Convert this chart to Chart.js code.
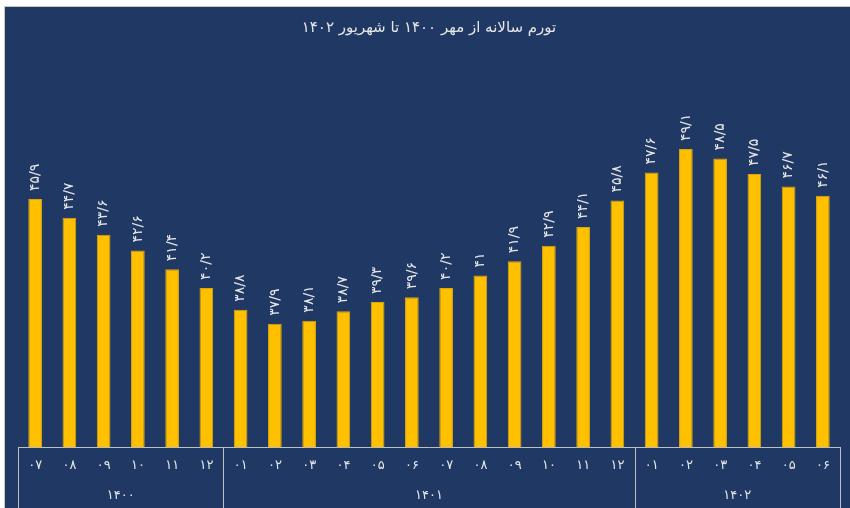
<!DOCTYPE html>
<html>
<head>
<meta charset="utf-8">
<script src="https://cdn.jsdelivr.net/npm/chart.js@4"></script>
<style>
  body { margin: 0; background: #ffffff; width: 850px; height: 508px; overflow: hidden; }
  #box {
    position: absolute; left: 4px; top: 6px;
    width: 845px; height: 501px;
    background: #1f3864;
    border-left: 1px solid #c8c8c8; border-top: 1px solid #c8c8c8;
  }
</style>
</head>
<body>
<div id="box"><canvas id="grafico" width="845" height="501"></canvas></div>
<script>
// ماه‌ها (برچسب‌های محور افقی)
const mahha = ["۰۷", "۰۸", "۰۹", "۱۰", "۱۱", "۱۲",
  "۰۱", "۰۲", "۰۳", "۰۴", "۰۵", "۰۶", "۰۷", "۰۸", "۰۹", "۱۰", "۱۱", "۱۲",
  "۰۱", "۰۲", "۰۳", "۰۴", "۰۵", "۰۶"];

// سال‌ها و تعداد ماه‌های هر سال
const salha = ["۱۴۰۰", "۱۴۰۱", "۱۴۰۲"];
const tedadMah = [6, 12, 6];

// تورم سالانه (درصد)
const tavarom = [45.9, 44.7, 43.6, 42.6, 41.4, 40.2,
  38.8, 37.9, 38.1, 38.7, 39.3, 39.6, 40.2, 41.0, 41.9, 42.9, 44.1, 45.8,
  47.6, 49.1, 48.5, 47.5, 46.7, 46.1];

const rangMatn = "#e6e6e6";
const rangKhat = "#bfbfbf";
const font = "DejaVu Sans";

// عدد به رقم فارسی با ممیز
function farsi(v) {
  const d = "۰۱۲۳۴۵۶۷۸۹";
  return String(Math.round(v * 10) / 10).replace(".", "/").replace(/[0-9]/g, (c) => d[c]);
}

// برچسب عمودی بالای ستون‌ها
const barchasbha = {
  id: "barchasbha",
  afterDatasetsDraw(chart) {
    const ctx = chart.ctx;
    const meta = chart.getDatasetMeta(0);
    ctx.save();
    ctx.fillStyle = rangMatn;
    ctx.font = "14px '" + font + "'";
    ctx.textAlign = "left";
    ctx.textBaseline = "middle";
    meta.data.forEach((bar, i) => {
      ctx.save();
      ctx.translate(bar.x, bar.y - 8);
      ctx.rotate(-Math.PI / 2);
      ctx.fillText(farsi(tavarom[i]), 0, 0);
      ctx.restore();
    });
    ctx.restore();
  },
};

// سال‌ها و خطوط جداکننده زیر محور
const gorouhSal = {
  id: "gorouhSal",
  afterDraw(chart) {
    const ctx = chart.ctx;
    const x = chart.scales.x;
    const nim = (x.getPixelForValue(1) - x.getPixelForValue(0)) / 2;
    const bala = chart.chartArea.bottom;
    const paein = chart.height;
    ctx.save();
    ctx.strokeStyle = rangKhat;
    ctx.lineWidth = 1;
    ctx.fillStyle = rangMatn;
    ctx.font = "13px '" + font + "'";
    ctx.textAlign = "center";
    ctx.textBaseline = "middle";
    let shoru = 0;
    const marz = [0];
    salha.forEach((s, k) => {
      const payan = shoru + tedadMah[k];
      const x1 = x.getPixelForValue(shoru) - nim;
      const x2 = x.getPixelForValue(payan - 1) + nim;
      ctx.fillText(s, (x1 + x2) / 2, paein - 12);
      marz.push(payan);
      shoru = payan;
    });
    marz.forEach((m) => {
      const px = Math.round(m < mahha.length ? x.getPixelForValue(m) - nim : x.getPixelForValue(m - 1) + nim) + 0.5;
      ctx.beginPath();
      ctx.moveTo(px, bala);
      ctx.lineTo(px, paein);
      ctx.stroke();
    });
    ctx.restore();
  },
};

new Chart(document.getElementById("grafico"), {
  type: "bar",
  data: {
    labels: mahha,
    datasets: [
      {
        data: tavarom,
        backgroundColor: "#ffc000",
        borderColor: "#d9a514",
        borderWidth: 1,
        barPercentage: 0.4,
        categoryPercentage: 1,
      },
    ],
  },
  options: {
    responsive: false,
    animation: false,
    layout: { padding: { left: 13, right: 10, top: 0, bottom: 0 } },
    plugins: {
      legend: { display: false },
      tooltip: { enabled: false },
      title: {
        display: true,
        text: "تورم سالانه از مهر ۱۴۰۰ تا شهریور ۱۴۰۲",
        color: rangMatn,
        font: { family: font, size: 15, weight: "normal", lineHeight: 1.2 },
        padding: { top: 12, bottom: 20 },
      },
    },
    scales: {
      x: {
        grid: { display: false, drawTicks: false },
        border: { display: true, color: rangKhat },
        ticks: {
          color: rangMatn,
          font: { family: font, size: 13 },
          padding: 11,
          maxRotation: 0,
          autoSkip: false,
        },
        afterFit(scale) {
          scale.height = 61;
        },
      },
      y: {
        display: false,
        min: 30,
        max: 55,
      },
    },
  },
  plugins: [barchasbha, gorouhSal],
});
</script>
</body>
</html>
